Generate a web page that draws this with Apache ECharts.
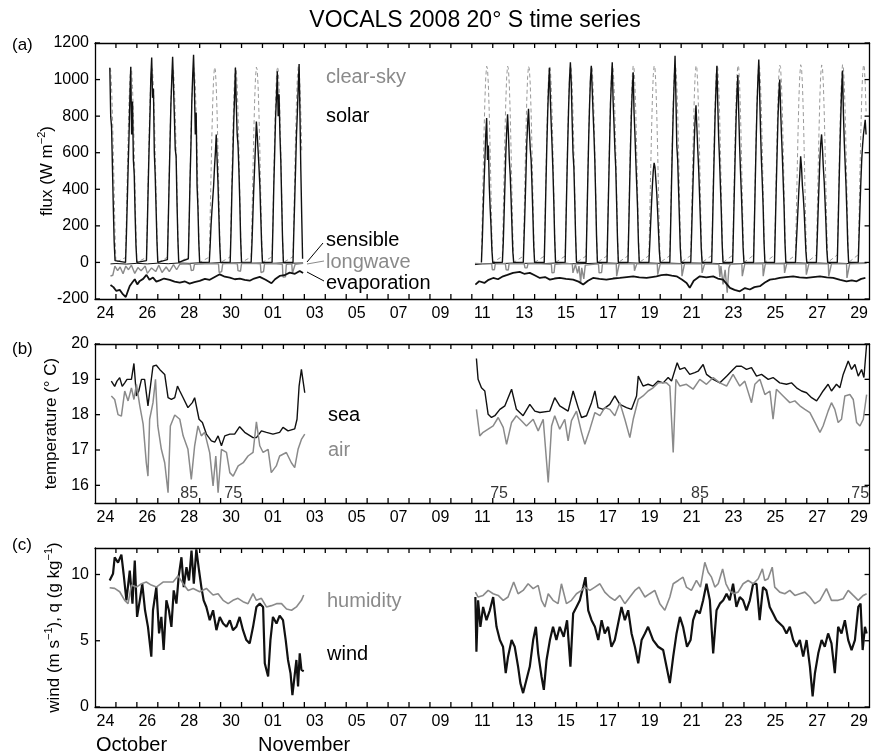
<!DOCTYPE html>
<html>
<head>
<meta charset="utf-8">
<title>VOCALS 2008 20° S time series</title>
<script src="https://cdn.jsdelivr.net/npm/echarts@6/dist/echarts.min.js"></script>
<style>
  html, body { margin: 0; padding: 0; background: #fff; }
  #chart { width: 871px; height: 756px; }
</style>
</head>
<body>
<div id="chart"></div>
<script>
// x is days since 24 October 2008 00:00 UTC
const dayLabels = ["24", "26", "28", "30", "01", "03", "05", "07", "09", "11",
  "13", "15", "17", "19", "21", "23", "25", "27", "29"];
const labelDays = [0.5, 2.5, 4.5, 6.5, 8.5, 10.5, 12.5, 14.5, 16.5, 18.5,
  20.5, 22.5, 24.5, 26.5, 28.5, 30.5, 32.5, 34.5, 36.5];
const fluxTicks = [-200, 0, 200, 400, 600, 800, 1000, 1200];
const tempTicks = [16, 17, 18, 19, 20];
const windTicks = [0, 5, 10];

// (a) hourly daytime solar and clear-sky flux, W m-2
const solarHours = [11, 12, 13, 14, 15, 16, 17, 18, 19, 20, 21, 22, 23, 24];
const solarDays = [0, 1, 2, 3, 4, 5, 6, 7, 8, 9,
  18, 19, 20, 21, 22, 23, 24, 25, 26, 27, 28, 29, 30, 31, 32, 33, 34, 35, 36];
const solar = [
  [null, null, null, null, null, null, 1065, 800, 740, 520, 300, 110, 10, 0],
  [0, 150, 330, 520, 690, 900, 1070, 700, 880, 560, 480, 260, 90, 0],
  [10, 200, 420, 620, 800, 1010, 1120, 900, 950, 600, 480, 300, 120, 0],
  [15, 220, 440, 650, 860, 1000, 1125, 960, 800, 620, 580, 330, 130, 0],
  [20, 230, 460, 640, 880, 1020, 1135, 950, 700, 820, 420, 300, 110, 0],
  [0, 90, 200, 280, 350, 420, 520, 600, 700, 560, 430, 260, 100, 0],
  [0, 180, 400, 560, 760, 900, 1065, 860, 700, 640, 500, 330, 120, 0],
  [0, 110, 260, 400, 520, 640, 770, 700, 610, 520, 420, 260, 100, 0],
  [0, 200, 420, 600, 790, 900, 1045, 800, 920, 700, 560, 340, 130, 0],
  [0, 180, 350, 520, 700, 820, 960, 1085, 800, 500, 250, 20, null, null],
  [0, 120, 280, 430, 560, 700, 790, 560, 640, 420, 300, 200, 70, 0],
  [0, 100, 260, 430, 600, 720, 810, 700, 560, 480, 350, 200, 60, 0],
  [0, 150, 300, 470, 650, 760, 840, 720, 620, 560, 420, 260, 90, 0],
  [0, 200, 430, 640, 820, 960, 1065, 900, 760, 640, 500, 330, 130, 0],
  [0, 220, 450, 660, 850, 1000, 1095, 980, 780, 600, 520, 340, 140, 0],
  [0, 230, 460, 680, 860, 1000, 1075, 950, 820, 700, 560, 360, 140, 0],
  [0, 220, 440, 660, 870, 990, 1095, 880, 760, 620, 520, 330, 130, 0],
  [0, 200, 430, 640, 820, 950, 1040, 820, 700, 560, 430, 300, 110, 0],
  [0, 100, 210, 320, 420, 500, 545, 520, 450, 380, 280, 170, 60, 0],
  [0, 210, 440, 650, 840, 990, 1130, 900, 640, 560, 400, 240, 80, 0],
  [0, 160, 340, 500, 660, 780, 860, 740, 620, 520, 380, 240, 80, 0],
  [0, 200, 420, 620, 820, 960, 1075, 860, 680, 560, 420, 280, 100, 0],
  [0, 190, 400, 600, 790, 930, 1025, 820, 640, 500, 380, 240, 80, 0],
  [0, 220, 450, 670, 860, 1000, 1110, 920, 720, 560, 440, 300, 110, 0],
  [0, 200, 410, 600, 790, 920, 1000, 840, 700, 580, 440, 300, 110, 0],
  [0, 100, 200, 300, 400, 480, 580, 520, 420, 360, 280, 170, 60, 0],
  [0, 130, 280, 420, 560, 650, 700, 620, 520, 440, 330, 210, 70, 0],
  [0, 200, 420, 620, 800, 950, 1050, 820, 660, 540, 420, 270, 100, 0],
  [0, 150, 300, 440, 560, 640, 700, 740, 780, 700, null, null, null, null]
];
const clearSky = [
  [null, null, null, null, null, null, 1064, 1049, 960, 808, 607, 377, 146, 0],
  [27, 236, 472, 693, 879, 1006, 1066, 1050, 961, 809, 608, 377, 146, 0],
  [28, 237, 474, 694, 879, 1007, 1065, 1051, 962, 811, 609, 378, 147, 0],
  [28, 238, 473, 696, 880, 1008, 1067, 1052, 962, 810, 610, 379, 148, 0],
  [29, 238, 475, 695, 881, 1008, 1068, 1051, 964, 812, 609, 380, 147, 0],
  [29, 240, 476, 697, 881, 1010, 1067, 1053, 963, 811, 611, 380, 149, 0],
  [30, 239, 476, 698, 883, 1009, 1069, 1054, 965, 813, 612, 381, 149, 0],
  [30, 241, 477, 697, 882, 1011, 1068, 1053, 964, 812, 611, 382, 150, 0],
  [31, 242, 478, 699, 884, 1012, 1070, 1055, 966, 814, 613, 381, 151, 0],
  [31, 241, 479, 700, 883, 1011, 1071, 1054, 965, 813, 612, null, null, null],
  [33, 246, 483, 704, 889, 1016, 1073, 1058, 970, 818, 616, 386, 154, 0],
  [33, 247, 484, 703, 890, 1017, 1074, 1059, 969, 819, 617, 385, 155, 0],
  [34, 246, 485, 705, 889, 1018, 1073, 1058, 971, 818, 618, 387, 154, 0],
  [34, 248, 484, 706, 891, 1017, 1075, 1060, 970, 820, 617, 386, 156, 0],
  [35, 249, 486, 705, 892, 1019, 1074, 1061, 972, 819, 619, 388, 155, 0],
  [35, 248, 487, 707, 891, 1020, 1076, 1060, 971, 821, 618, 387, 157, 0],
  [36, 250, 486, 708, 893, 1019, 1075, 1062, 973, 820, 620, 389, 156, 0],
  [36, 251, 488, 707, 894, 1021, 1077, 1061, 972, 822, 619, 388, 158, 0],
  [37, 250, 489, 709, 893, 1022, 1076, 1063, 974, 821, 621, 390, 157, 0],
  [37, 252, 488, 710, 895, 1021, 1078, 1062, 973, 823, 620, 389, 159, 0],
  [38, 253, 490, 709, 896, 1023, 1077, 1064, 975, 822, 622, 391, 158, 0],
  [38, 252, 491, 711, 895, 1024, 1079, 1063, 974, 824, 621, 390, 160, 0],
  [39, 254, 490, 712, 897, 1023, 1078, 1065, 976, 823, 623, 392, 159, 0],
  [39, 255, 492, 711, 898, 1025, 1080, 1064, 975, 825, 622, 391, 161, 0],
  [40, 254, 493, 713, 897, 1026, 1079, 1066, 977, 824, 624, 393, 160, 0],
  [40, 256, 492, 714, 899, 1025, 1081, 1065, 976, 826, 623, 392, 162, 0],
  [41, 257, 494, 713, 900, 1027, 1080, 1067, 978, 825, 625, 394, 161, 0],
  [41, 256, 495, 715, 899, 1028, 1082, 1066, 977, 827, 624, 393, 163, 0],
  [42, 258, 494, 716, 901, 1027, 1081, 1068, 979, 826, null, null, null, null]
];

const sensibleLeft = [[0.74, -8], [1.0, -6], [1.5, -9], [2.0, -5], [2.5, -8], [3.0, -4],
  [3.5, -7], [4.0, -3], [4.5, -5], [5.0, -2], [5.5, -4], [6.0, -1], [6.5, -3], [7.0, -2],
  [7.5, -4], [8.0, -3], [8.5, -5], [9.0, -2], [9.5, -4], [9.94, -3]];
const sensibleRight = [[18.15, -12], [18.5, -8], [19, -5], [19.5, -6], [20, -3], [20.5, -5],
  [21, -4], [21.5, -6], [22, -3], [22.5, -5], [23, -8], [23.5, -6], [24, -4], [24.5, -3],
  [25, -5], [25.5, -2], [26, -4], [26.5, -3], [27, -5], [27.5, -4], [28, -6], [28.5, -3],
  [29, -4], [29.5, -5], [30, -7], [30.5, -8], [31, -5], [31.5, -4], [32, -3], [32.5, -5],
  [33, -4], [33.5, -2], [34, -4], [34.5, -3], [35, -5], [35.5, -4], [36, -6], [36.5, -4],
  [36.85, -3]];

const longwaveLeft = [[0.74, -74], [0.85, -70], [0.95, -20], [1.08, -45], [1.2, -25],
  [1.34, -62], [1.47, -20], [1.6, -40], [1.74, -15], [1.9, -60], [2.05, -28], [2.2, -45],
  [2.4, -20], [2.5, -60], [2.7, -30], [2.9, -50], [3.05, -15], [3.2, -55], [3.4, -25],
  [3.55, -50], [3.75, -12], [3.9, -40], [4.05, -10], [4.3, -8], [4.55, -10], [4.6, -45],
  [4.7, -42], [4.75, -10], [5.5, -6], [5.9, -8], [5.93, -55], [6.05, -50], [6.1, -8],
  [6.5, -5], [6.8, -8], [6.83, -45], [6.95, -48], [7.0, -6], [7.5, -5], [7.9, -8],
  [7.93, -55], [8.05, -50], [8.1, -8], [8.5, -6], [8.95, -10], [8.98, -80], [9.1, -78],
  [9.14, -10], [9.4, -8], [9.43, -60], [9.52, -55], [9.56, -10], [9.94, -5]];
const longwaveRight = [[18.15, -5], [18.6, -8], [18.95, -8], [18.98, -40], [19.08, -40],
  [19.12, -8], [19.6, -6], [19.64, -40], [19.74, -42], [19.78, -8], [20.5, -6], [20.54, -30],
  [20.64, -30], [20.68, -8], [21.3, -8], [21.8, -10], [21.83, -57], [21.93, -55], [21.97, -10],
  [22.5, -6], [22.8, -8], [22.83, -57], [22.9, -55], [22.95, -12], [23.05, -60], [23.12, -20],
  [23.2, -110], [23.25, -30], [23.35, -90], [23.42, -15], [23.5, -8], [24.05, -8], [24.08, -57],
  [24.2, -55], [24.24, -8], [24.9, -8], [24.92, -75], [25.0, -72], [25.04, -8], [25.75, -8],
  [25.77, -45], [25.85, -45], [25.88, -8], [26.86, -8], [26.88, -67], [26.96, -64], [27.0, -8],
  [28.02, -8], [28.04, -75], [28.12, -72], [28.16, -8], [28.98, -8], [29.0, -57], [29.08, -55],
  [29.12, -8], [29.8, -10], [29.85, -80], [29.9, -20], [30.0, -120], [30.1, -40], [30.2, -165],
  [30.28, -30], [30.35, -8], [30.9, -8], [30.92, -75], [31.0, -72], [31.04, -8], [31.9, -8],
  [31.92, -75], [31.98, -72], [32.02, -8], [32.92, -8], [32.94, -57], [33.0, -55], [33.04, -8],
  [33.96, -8], [33.98, -67], [34.06, -65], [34.1, -8], [35.03, -8], [35.05, -75], [35.14, -72],
  [35.18, -8], [35.9, -8], [35.92, -85], [36.0, -82], [36.05, -8], [36.5, -6], [36.85, -5]];

const evapLeft = [[0.74, -123], [0.88, -135], [1.02, -156], [1.18, -150], [1.34, -175],
  [1.47, -189], [1.56, -160], [1.66, -129], [1.78, -110], [1.9, -92], [2.02, -120], [2.14, -101],
  [2.3, -90], [2.46, -68], [2.6, -95], [2.77, -83], [2.93, -105], [3.09, -98], [3.3, -88],
  [3.57, -95], [3.8, -105], [4.05, -111], [4.3, -104], [4.52, -116], [4.75, -108], [5.0, -101],
  [5.25, -90], [5.48, -95], [5.72, -80], [5.96, -65], [6.2, -78], [6.44, -83], [6.68, -92],
  [6.92, -89], [7.15, -96], [7.39, -100], [7.6, -88], [7.87, -79], [8.15, -95], [8.43, -114],
  [8.6, -92], [8.82, -74], [9.05, -70], [9.3, -56], [9.55, -62], [9.78, -47], [9.94, -58]];
const evapRight = [[18.17, -121], [18.35, -103], [18.6, -112], [18.8, -95], [19.02, -85],
  [19.25, -92], [19.49, -76], [19.7, -68], [19.97, -57], [20.29, -52], [20.5, -62], [20.77, -57],
  [21.0, -70], [21.25, -85], [21.5, -80], [21.73, -94], [21.95, -88], [22.2, -85], [22.5, -90],
  [22.84, -94], [23.1, -105], [23.32, -121], [23.55, -100], [23.79, -85], [24.1, -90],
  [24.43, -94], [24.75, -88], [25.07, -85], [25.4, -80], [25.71, -76], [26.0, -82], [26.35, -85],
  [26.6, -80], [26.82, -76], [27.05, -70], [27.3, -67], [27.55, -72], [27.78, -76], [28.05, -95],
  [28.26, -112], [28.41, -139], [28.6, -100], [28.89, -76], [29.2, -82], [29.53, -76],
  [29.75, -88], [30.0, -94], [30.33, -139], [30.55, -150], [30.8, -158], [31.05, -140],
  [31.28, -148], [31.5, -135], [31.76, -130], [32.0, -110], [32.24, -94], [32.5, -90],
  [32.71, -85], [33.0, -80], [33.35, -76], [33.65, -82], [33.99, -85], [34.3, -80], [34.63, -76],
  [34.95, -82], [35.26, -85], [35.6, -95], [35.9, -103], [36.15, -98], [36.38, -103],
  [36.6, -90], [36.8, -85]];

// (b) temperature, deg C
const seaLeft = [[0.78, 18.95], [0.94, 18.8], [1.05, 18.95], [1.18, 19.05], [1.3, 18.8],
  [1.42, 18.9], [1.53, 19.0], [1.74, 19.0], [1.86, 19.45], [1.98, 18.53], [2.09, 18.67],
  [2.22, 19.0], [2.37, 19.0], [2.53, 18.25], [2.66, 18.86], [2.77, 19.37], [2.93, 19.4],
  [3.09, 19.28], [3.33, 19.14], [3.49, 18.48], [3.65, 18.43], [3.81, 18.48], [3.94, 18.81],
  [4.05, 18.67], [4.21, 18.48], [4.44, 18.2], [4.65, 18.34], [4.76, 18.48], [4.84, 18.25],
  [4.97, 17.87], [5.13, 17.78], [5.32, 17.45], [5.56, 17.26], [5.72, 17.22], [5.88, 17.4],
  [6.04, 17.12], [6.2, 17.4], [6.44, 17.45], [6.67, 17.45], [6.91, 17.66], [7.15, 17.5],
  [7.55, 17.35], [7.71, 17.35], [7.95, 17.54], [8.19, 17.5], [8.5, 17.45], [8.82, 17.5],
  [8.98, 17.64], [9.22, 17.54], [9.54, 17.6], [9.65, 17.87], [9.75, 18.81], [9.86, 19.28],
  [9.94, 18.95], [10.02, 18.62]];
const airLeft = [[0.78, 18.53], [0.94, 18.43], [1.1, 18.0], [1.26, 17.96], [1.42, 18.67],
  [1.58, 18.39], [1.74, 18.76], [1.86, 18.43], [1.98, 18.86], [2.14, 18.25], [2.3, 17.73],
  [2.45, 16.64], [2.53, 16.26], [2.61, 17.87], [2.77, 18.34], [2.89, 19.0], [3.0, 17.68],
  [3.17, 17.02], [3.33, 16.64], [3.49, 15.79], [3.6, 17.68], [3.81, 17.99], [4.05, 17.87],
  [4.21, 17.4], [4.44, 17.02], [4.6, 16.17], [4.76, 17.12], [4.92, 17.68], [5.08, 17.4],
  [5.24, 17.5], [5.48, 16.92], [5.64, 15.98], [5.77, 16.83], [5.88, 15.79], [6.04, 17.02],
  [6.28, 16.93], [6.44, 16.36], [6.6, 16.26], [6.84, 16.55], [7.08, 16.64], [7.31, 16.83],
  [7.55, 16.93], [7.71, 17.8], [7.87, 17.12], [8.03, 16.93], [8.27, 17.02], [8.42, 16.36],
  [8.66, 16.55], [8.82, 16.83], [9.14, 16.93], [9.38, 16.64], [9.54, 16.5], [9.7, 17.02],
  [9.86, 17.3], [10.02, 17.45]];
const seaRight = [[18.22, 19.59], [18.3, 19.0], [18.46, 18.76], [18.62, 18.67], [18.78, 18.01],
  [18.94, 17.92], [19.1, 17.97], [19.34, 18.15], [19.58, 18.25], [19.9, 18.72], [20.13, 18.15],
  [20.45, 17.97], [20.77, 18.29], [21.01, 18.1], [21.25, 18.06], [21.72, 18.1], [21.96, 18.48],
  [22.2, 18.25], [22.6, 18.1], [22.84, 18.67], [23.08, 18.2], [23.24, 17.92], [23.48, 17.97],
  [23.72, 18.34], [23.88, 18.67], [24.03, 18.2], [24.27, 18.15], [24.59, 18.29], [24.83, 18.53],
  [25.07, 18.29], [25.39, 18.2], [25.63, 18.15], [25.87, 18.53], [25.95, 19.09], [26.18, 18.81],
  [26.42, 18.86], [26.66, 18.81], [26.9, 18.95], [27.14, 18.9], [27.38, 19.05], [27.54, 18.95],
  [27.81, 19.47], [27.94, 19.28], [28.17, 19.33], [28.41, 19.14], [28.65, 19.19], [28.81, 19.23],
  [29.05, 19.42], [29.21, 19.14], [29.53, 19.0], [29.85, 18.9], [30.17, 19.09], [30.48, 19.28],
  [30.64, 19.37], [30.88, 19.37], [31.12, 19.28], [31.36, 19.33], [31.6, 19.09], [31.84, 19.14],
  [32.16, 19.0], [32.39, 19.05], [32.71, 18.9], [33.03, 18.86], [33.27, 18.9], [33.51, 18.76],
  [33.75, 18.67], [33.99, 18.62], [34.23, 18.48], [34.47, 18.39], [34.63, 18.53], [34.78, 18.67],
  [35.02, 18.86], [35.18, 18.67], [35.42, 18.86], [35.58, 18.76], [35.74, 19.14], [35.98, 19.52],
  [36.14, 19.28], [36.3, 19.42], [36.46, 19.09], [36.62, 19.28], [36.73, 19.05], [36.86, 20.0]];
const airRight = [[18.22, 18.15], [18.38, 17.4], [18.54, 17.5], [18.78, 17.59], [19.02, 17.68],
  [19.26, 17.92], [19.5, 17.64], [19.66, 17.16], [19.9, 17.78], [20.13, 17.97], [20.37, 17.83],
  [20.61, 17.68], [20.93, 17.87], [21.17, 17.54], [21.41, 17.87], [21.65, 16.08], [21.81, 17.68],
  [21.96, 17.97], [22.2, 17.59], [22.44, 17.87], [22.6, 17.26], [22.76, 17.83], [23.0, 18.1],
  [23.24, 17.5], [23.4, 17.16], [23.64, 17.59], [23.88, 18.06], [24.12, 17.97], [24.35, 18.2],
  [24.59, 18.15], [24.83, 17.97], [25.07, 18.34], [25.31, 17.87], [25.55, 17.35], [25.71, 17.87],
  [25.95, 18.43], [26.18, 18.53], [26.42, 18.67], [26.66, 18.76], [26.9, 18.9], [27.3, 18.9],
  [27.46, 18.81], [27.62, 16.93], [27.75, 19.0], [27.94, 18.81], [28.25, 18.86], [28.57, 18.72],
  [28.89, 19.0], [29.21, 18.86], [29.53, 19.05], [29.85, 18.9], [30.17, 18.81], [30.48, 19.14],
  [30.8, 18.81], [31.04, 18.95], [31.36, 18.34], [31.52, 18.86], [31.76, 19.0], [32.0, 18.57],
  [32.24, 18.67], [32.39, 17.87], [32.55, 18.72], [32.87, 18.53], [33.19, 18.34], [33.43, 18.39],
  [33.67, 18.25], [33.91, 18.15], [34.15, 18.06], [34.39, 17.78], [34.63, 17.5], [34.78, 17.68],
  [35.02, 18.1], [35.18, 18.34], [35.34, 18.15], [35.5, 17.78], [35.66, 17.87], [35.82, 18.53],
  [36.06, 18.57], [36.22, 18.43], [36.38, 17.78], [36.54, 17.68], [36.7, 17.87], [36.86, 18.57]];
const lonDays = [4.5, 6.6, 19.3, 28.9, 36.55];
const lonLabels = ["85", "75", "75", "85", "75"];

// (c) wind speed m s-1 and specific humidity g kg-1
const windLeft = [[0.7, 9.55], [0.86, 10.05], [0.94, 11.3], [1.1, 10.9], [1.26, 11.5],
  [1.37, 10.0], [1.5, 8.05], [1.66, 10.3], [1.79, 7.8], [1.9, 11.05], [2.01, 6.8], [2.14, 8.05],
  [2.26, 9.3], [2.39, 7.3], [2.53, 6.05], [2.69, 3.8], [2.77, 7.3], [2.93, 9.05], [3.06, 5.55],
  [3.17, 6.8], [3.28, 4.3], [3.41, 8.05], [3.53, 7.3], [3.65, 6.05], [3.76, 8.8], [3.89, 7.8],
  [4.0, 9.9], [4.13, 11.3], [4.24, 9.05], [4.37, 10.55], [4.49, 9.55], [4.61, 11.8], [4.72, 9.3],
  [4.84, 11.9], [4.97, 10.3], [5.08, 9.05], [5.19, 8.05], [5.32, 7.55], [5.48, 6.55], [5.64, 7.3],
  [5.8, 5.8], [5.96, 6.8], [6.12, 6.3], [6.28, 6.05], [6.44, 6.55], [6.59, 5.8], [6.75, 6.05],
  [6.91, 6.8], [7.07, 5.8], [7.23, 5.05], [7.39, 4.8], [7.55, 6.05], [7.71, 7.55], [7.87, 7.8],
  [8.03, 7.55], [8.11, 3.3], [8.19, 2.8], [8.27, 2.3], [8.38, 5.05], [8.5, 6.8], [8.67, 6.3],
  [8.82, 6.9], [8.98, 6.55], [9.11, 5.05], [9.22, 3.55], [9.34, 2.55], [9.43, 0.9], [9.53, 2.3],
  [9.62, 3.55], [9.7, 1.55], [9.78, 4.05], [9.86, 2.8], [9.97, 2.7]];
const windRight = [[18.17, 8.3], [18.22, 4.17], [18.3, 8.05], [18.41, 6.05], [18.54, 7.55],
  [18.7, 6.55], [18.86, 7.3], [19.02, 8.3], [19.18, 6.05], [19.34, 5.05], [19.49, 4.55],
  [19.62, 2.55], [19.73, 3.8], [19.9, 5.05], [20.05, 4.55], [20.21, 3.05], [20.32, 1.8],
  [20.45, 1.05], [20.61, 2.05], [20.77, 3.05], [20.93, 5.05], [21.06, 6.05], [21.17, 4.05],
  [21.33, 2.3], [21.44, 1.3], [21.57, 3.55], [21.73, 5.05], [21.88, 6.05], [22.04, 5.05],
  [22.2, 6.05], [22.39, 5.3], [22.55, 6.55], [22.71, 3.05], [22.84, 7.05], [23.0, 7.55],
  [23.16, 8.05], [23.32, 9.05], [23.43, 9.8], [23.56, 7.3], [23.72, 6.55], [23.88, 6.05],
  [24.04, 5.05], [24.2, 6.55], [24.35, 5.55], [24.51, 6.05], [24.67, 4.55], [24.83, 5.05],
  [24.99, 6.3], [25.15, 7.55], [25.31, 6.55], [25.47, 7.3], [25.63, 5.55], [25.79, 4.55],
  [25.95, 3.3], [26.11, 5.05], [26.27, 5.55], [26.42, 6.05], [26.66, 5.05], [26.9, 4.55],
  [27.14, 4.3], [27.3, 3.05], [27.46, 1.8], [27.62, 3.8], [27.78, 5.55], [27.94, 6.8],
  [28.09, 6.05], [28.28, 4.55], [28.45, 5.05], [28.57, 6.55], [28.73, 7.3], [28.89, 7.05],
  [29.05, 8.05], [29.21, 9.3], [29.37, 8.05], [29.53, 4.05], [29.69, 7.3], [29.85, 7.8],
  [30.01, 8.05], [30.17, 8.55], [30.32, 8.05], [30.48, 9.3], [30.64, 7.55], [30.8, 8.3],
  [30.96, 8.05], [31.12, 7.3], [31.28, 8.05], [31.44, 9.3], [31.6, 9.3], [31.75, 6.55],
  [31.91, 9.05], [32.07, 8.8], [32.23, 7.55], [32.39, 7.05], [32.55, 6.55], [32.71, 6.3],
  [32.87, 6.05], [33.03, 5.55], [33.19, 6.05], [33.35, 5.05], [33.51, 4.55], [33.67, 5.05],
  [33.83, 3.8], [33.99, 5.05], [34.15, 3.05], [34.28, 0.8], [34.39, 2.55], [34.55, 4.05],
  [34.71, 5.05], [34.86, 4.55], [35.02, 5.55], [35.18, 4.8], [35.34, 2.55], [35.5, 6.05],
  [35.66, 5.55], [35.82, 6.55], [35.98, 5.05], [36.14, 4.3], [36.3, 5.05], [36.46, 7.55],
  [36.57, 7.8], [36.67, 4.3], [36.78, 6.05], [36.86, 5.55]];
const humLeft = [[0.7, 9.0], [0.94, 8.95], [1.18, 8.7], [1.42, 8.05], [1.58, 7.8], [1.74, 9.2],
  [1.98, 9.05], [2.22, 9.3], [2.45, 9.43], [2.69, 9.2], [2.93, 9.05], [3.25, 9.43], [3.49, 9.43],
  [3.73, 9.43], [3.97, 9.9], [4.21, 9.3], [4.45, 8.8], [4.69, 8.95], [5.0, 8.7], [5.32, 8.95],
  [5.64, 8.45], [5.88, 8.55], [6.12, 8.05], [6.36, 7.8], [6.59, 8.05], [6.83, 8.2], [7.07, 7.95],
  [7.31, 7.8], [7.55, 8.55], [7.71, 8.05], [7.95, 8.2], [8.19, 7.55], [8.43, 7.65], [8.67, 7.8],
  [8.91, 7.8], [9.15, 7.4], [9.39, 7.3], [9.62, 7.55], [9.86, 8.05], [9.97, 8.45]];
const humRight = [[18.17, 8.67], [18.3, 8.3], [18.54, 8.42], [18.78, 8.8], [19.02, 8.55],
  [19.26, 8.42], [19.5, 8.05], [19.73, 8.3], [20.0, 9.43], [20.21, 8.55], [20.45, 8.8],
  [20.69, 9.3], [20.93, 8.93], [21.17, 9.18], [21.33, 8.05], [21.49, 7.55], [21.65, 8.55],
  [21.88, 8.05], [22.12, 7.8], [22.28, 9.3], [22.52, 7.8], [22.76, 8.05], [23.0, 8.55],
  [23.24, 8.8], [23.4, 9.05], [23.64, 8.8], [23.88, 9.05], [24.12, 9.3], [24.35, 8.67],
  [24.59, 8.3], [24.83, 8.05], [25.07, 8.42], [25.31, 7.8], [25.55, 8.3], [25.79, 8.8],
  [25.99, 9.05], [26.27, 8.3], [26.5, 8.55], [26.74, 8.8], [26.98, 7.8], [27.22, 7.3],
  [27.46, 8.3], [27.62, 9.3], [27.86, 9.55], [28.09, 9.8], [28.25, 9.05], [28.49, 8.8],
  [28.73, 9.55], [28.92, 9.05], [29.13, 10.92], [29.29, 10.17], [29.45, 9.8], [29.61, 9.05],
  [29.77, 9.3], [29.98, 10.42], [30.14, 9.3], [30.3, 8.8], [30.48, 8.55], [30.72, 8.67],
  [30.96, 9.3], [31.2, 9.55], [31.44, 9.3], [31.68, 9.68], [31.88, 10.42], [31.99, 9.55],
  [32.15, 9.68], [32.35, 10.55], [32.47, 9.05], [32.71, 8.67], [32.95, 8.55], [33.19, 8.8],
  [33.43, 8.42], [33.67, 8.55], [33.91, 8.67], [34.15, 8.3], [34.39, 7.8], [34.63, 8.05],
  [34.94, 8.93], [35.18, 8.05], [35.5, 8.05], [35.74, 8.17], [35.98, 8.8], [36.22, 8.42],
  [36.46, 8.05], [36.7, 8.42], [36.86, 8.55]];

const FONT = '"Liberation Sans", Arial, Helvetica, sans-serif';
const GREY = "#8a8a8a";
const X_MAX = 37;
const GRID_W = 776;
const TICK_PX = 5;
const tickDays = Array.from({ length: 36 }, (_, i) => i + 1);

// one polyline with a break over the cruise gap
function joinSegments(left, right) {
  return left.concat([[14, "-"]], right);
}

function dailyPoints(rows) {
  const pts = [];
  rows.forEach((row, i) => {
    const d = solarDays[i];
    if (i > 0 && d !== solarDays[i - 1] + 1) pts.push([14, "-"]);
    row.forEach((v, j) => {
      if (v !== null) pts.push([d + solarHours[j] / 24, v]);
    });
  });
  return pts;
}

const panels = [
  { top: 43, height: 256, min: -200, max: 1200, ticks: fluxTicks, name: "flux (W m{sup|−2})", gap: 37 },
  { top: 344, height: 159, min: 15.5, max: 20, ticks: tempTicks, name: "temperature (° C)", gap: 33 },
  { top: 548, height: 159, min: 0, max: 12, ticks: windTicks, name: "wind (m s{sup|−1}), q (g kg{sup|−1})", gap: 30 },
];

function xAxisPair(g) {
  const base = {
    type: "value",
    gridIndex: g,
    min: 0,
    max: X_MAX,
    interval: 1,
    axisLine: { onZero: false, lineStyle: { color: "#000", width: 1.3 } },
    axisTick: { show: false },
    splitLine: { show: false },
  };
  return [
    Object.assign({}, base, {
      position: "bottom",
      axisLabel: {
        customValues: labelDays,
        formatter: (v) => dayLabels[Math.round((v - 0.5) / 2)],
        color: "#000",
        fontSize: 16,
        fontFamily: FONT,
        margin: 7,
      },
    }),
    Object.assign({}, base, { position: "top", axisLabel: { show: false } }),
  ];
}

function yAxisPair(g) {
  const p = panels[g];
  const base = {
    type: "value",
    gridIndex: g,
    min: p.min,
    max: p.max,
    axisLine: { show: true, onZero: false, lineStyle: { color: "#000", width: 1.3 } },
    axisTick: { show: false },
    splitLine: { show: false },
  };
  return [
    Object.assign({}, base, {
      position: "left",
      axisLabel: {
        customValues: p.ticks,
        formatter: (v) => String(v),
        color: "#000",
        fontSize: 16,
        fontFamily: FONT,
        margin: 6,
      },
      name: p.name,
      nameLocation: "middle",
      nameRotate: 90,
      nameGap: p.gap,
      nameMoveOverlap: false,
      nameTextStyle: {
        color: "#000",
        fontSize: 17,
        fontFamily: FONT,
        lineHeight: 22,
        rich: { sup: { fontSize: 11, fontFamily: FONT, color: "#000", verticalAlign: "top" } },
      },
    }),
    Object.assign({}, base, { position: "right", axisLabel: { show: false } }),
  ];
}

// inward box ticks on all four sides: thin rect symbols anchored on the frame
function tickSeries(g) {
  const p = panels[g];
  const v = [1.3, TICK_PX], h = [TICK_PX, 1.3];
  const data = [];
  tickDays.forEach((d) => {
    data.push({ value: [d, p.min], symbolSize: v, symbolOffset: [0, -TICK_PX / 2] });
    data.push({ value: [d, p.max], symbolSize: v, symbolOffset: [0, TICK_PX / 2] });
  });
  p.ticks.forEach((t) => {
    data.push({ value: [0, t], symbolSize: h, symbolOffset: [TICK_PX / 2, 0] });
    data.push({ value: [X_MAX, t], symbolSize: h, symbolOffset: [-TICK_PX / 2, 0] });
  });
  return {
    type: "scatter",
    xAxisIndex: 2 * g,
    yAxisIndex: 2 * g,
    symbol: "rect",
    silent: true,
    clip: false,
    z: 20,
    itemStyle: { color: "#000", opacity: 1 },
    data: data,
  };
}

function lineSeries(name, g, data, color, width, z, dash) {
  return {
    name: name,
    type: "line",
    xAxisIndex: 2 * g,
    yAxisIndex: 2 * g,
    data: data,
    symbol: "none",
    showSymbol: false,
    connectNulls: false,
    z: z,
    lineStyle: { color: color, width: width, type: dash || "solid" },
  };
}

function label(text, x, y, color, size) {
  return {
    type: "text",
    x: x,
    y: y,
    style: { text: text, fill: color || "#000", font: (size || 20) + "px " + FONT, verticalAlign: "middle" },
  };
}

function leader(x1, y1, x2, y2, color) {
  return { type: "line", shape: { x1: x1, y1: y1, x2: x2, y2: y2 }, style: { stroke: color, lineWidth: 1 } };
}

const chart = echarts.init(document.getElementById("chart"), null, { renderer: "canvas" });

const option = {
  animation: false,
  backgroundColor: "#fff",
  title: {
    text: "VOCALS 2008 20° S time series",
    left: 470,
    top: 4,
    textAlign: "center",
    textStyle: { fontSize: 23, fontWeight: "normal", color: "#000", fontFamily: FONT },
  },
  grid: panels.map((p) => ({ left: 95, width: GRID_W, top: p.top, height: p.height })),
  xAxis: [].concat(xAxisPair(0), xAxisPair(1), xAxisPair(2)),
  yAxis: [].concat(yAxisPair(0), yAxisPair(1), yAxisPair(2)),
  series: [
    lineSeries("clear-sky", 0, dailyPoints(clearSky), "#9a9a9a", 1, 1, [4, 3]),
    lineSeries("solar", 0, dailyPoints(solar), "#111", 1.4, 2),
    lineSeries("sensible", 0, joinSegments(sensibleLeft, sensibleRight), "#111", 1, 3),
    lineSeries("longwave", 0, joinSegments(longwaveLeft, longwaveRight), GREY, 1.4, 4),
    lineSeries("evaporation", 0, joinSegments(evapLeft, evapRight), "#111", 1.8, 5),
    lineSeries("sea", 1, joinSegments(seaLeft, seaRight), "#111", 1.4, 2),
    lineSeries("air", 1, joinSegments(airLeft, airRight), GREY, 1.5, 3),
    lineSeries("wind", 2, joinSegments(windLeft, windRight), "#111", 2.2, 2),
    lineSeries("humidity", 2, joinSegments(humLeft, humRight), GREY, 1.6, 3),
    tickSeries(0),
    tickSeries(1),
    tickSeries(2),
    {
      name: "longitude",
      type: "scatter",
      xAxisIndex: 2,
      yAxisIndex: 2,
      symbolSize: 0,
      silent: true,
      data: lonDays.map((d, i) => [d, 15.78, lonLabels[i]]),
      label: {
        show: true,
        position: "inside",
        formatter: (p) => p.value[2],
        color: "#000",
        fontSize: 16,
        fontFamily: FONT,
      },
    },
  ],
  graphic: [
    label("(a)", 12, 45, "#000", 17),
    label("(b)", 12, 349, "#000", 17),
    label("(c)", 12, 545, "#000", 17),
    label("clear-sky", 326, 77, GREY),
    label("solar", 326, 116),
    label("sensible", 326, 240),
    label("longwave", 326, 262, GREY),
    label("evaporation", 326, 283),
    leader(323, 243, 307, 262, "#000"),
    leader(324, 261, 307, 264, GREY),
    leader(324, 281, 307, 272, "#000"),
    label("sea", 328, 415),
    label("air", 328, 450, GREY),
    label("humidity", 327, 601, GREY),
    label("wind", 327, 654),
    label("October", 96, 745),
    label("November", 258, 745),
  ],
};

chart.setOption(option);
</script>
</body>
</html>
